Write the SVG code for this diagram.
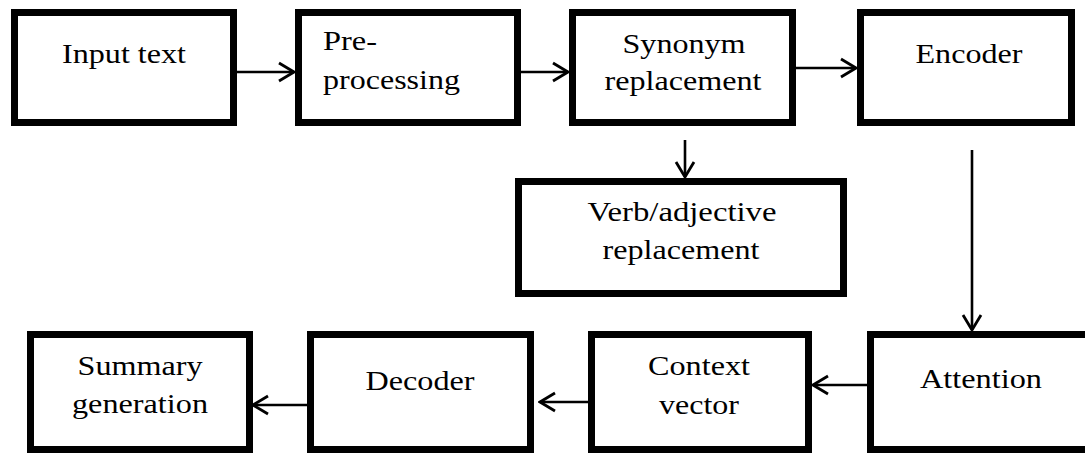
<svg xmlns="http://www.w3.org/2000/svg" width="1085" height="454" viewBox="0 0 1085 454">
<defs>
<style>
.box{fill:#fff;stroke:#000;stroke-width:7;stroke-linejoin:miter}
.lbl{font-family:"Liberation Serif","Times New Roman",serif;font-size:28px;fill:#000;text-anchor:middle}
.lft{text-anchor:start}
.edge{stroke:#000;stroke-width:2.6;fill:none}
</style>
<marker id="arr" viewBox="0 0 19 22" refX="17" refY="11" markerWidth="19" markerHeight="22" markerUnits="userSpaceOnUse" orient="auto">
<path d="M2,2 L17,11 L2,20" fill="none" stroke="#000" stroke-width="2.8"/>
</marker>
</defs>
<rect width="1085" height="454" fill="#fff"/>
<g id="connectors">
<line class="edge" x1="237" y1="72" x2="294" y2="72" marker-end="url(#arr)"/>
<line class="edge" x1="510" y1="72" x2="568" y2="72" marker-end="url(#arr)"/>
<line class="edge" x1="796" y1="68" x2="856" y2="68" marker-end="url(#arr)"/>
<line class="edge" x1="685" y1="140" x2="685" y2="177" marker-end="url(#arr)"/>
<line class="edge" x1="972" y1="150" x2="972" y2="330" marker-end="url(#arr)"/>
<line class="edge" x1="867" y1="385" x2="813" y2="385" marker-end="url(#arr)"/>
<line class="edge" x1="588" y1="402" x2="540" y2="402" marker-end="url(#arr)"/>
<line class="edge" x1="307" y1="405" x2="253" y2="405" marker-end="url(#arr)"/>
</g>
<g id="input-text">
<rect class="box" x="14.5" y="12.5" width="219" height="110"/>
<text class="lbl" x="124" y="63" textLength="124" lengthAdjust="spacingAndGlyphs">Input text</text>
</g>
<g id="pre-processing">
<rect class="box" x="298.5" y="12.5" width="219" height="110"/>
<text class="lbl lft" x="323" y="50" textLength="54" lengthAdjust="spacingAndGlyphs">Pre-</text>
<text class="lbl lft" x="323" y="89" textLength="137" lengthAdjust="spacingAndGlyphs">processing</text>
</g>
<g id="synonym-replacement">
<rect class="box" x="572.5" y="12.5" width="220" height="110"/>
<text class="lbl" x="684" y="53" textLength="123" lengthAdjust="spacingAndGlyphs">Synonym</text>
<text class="lbl" x="683" y="90" textLength="157" lengthAdjust="spacingAndGlyphs">replacement</text>
</g>
<g id="encoder">
<rect class="box" x="860.5" y="12.5" width="211" height="110"/>
<text class="lbl" x="969" y="63" textLength="107" lengthAdjust="spacingAndGlyphs">Encoder</text>
</g>
<g id="verb-adjective-replacement">
<rect class="box" x="518.5" y="181.5" width="325" height="112"/>
<text class="lbl" x="682" y="221" textLength="189" lengthAdjust="spacingAndGlyphs">Verb/adjective</text>
<text class="lbl" x="681" y="259" textLength="157" lengthAdjust="spacingAndGlyphs">replacement</text>
</g>
<g id="attention">
<rect class="box" x="870.5" y="334.5" width="230" height="115"/>
<text class="lbl" x="981" y="388" textLength="122" lengthAdjust="spacingAndGlyphs">Attention</text>
</g>
<g id="context-vector">
<rect class="box" x="591.5" y="334.5" width="217" height="115"/>
<text class="lbl" x="699" y="375" textLength="102" lengthAdjust="spacingAndGlyphs">Context</text>
<text class="lbl" x="699" y="414" textLength="80" lengthAdjust="spacingAndGlyphs">vector</text>
</g>
<g id="decoder">
<rect class="box" x="310.5" y="334.5" width="220" height="115"/>
<text class="lbl" x="420" y="390" textLength="109" lengthAdjust="spacingAndGlyphs">Decoder</text>
</g>
<g id="summary-generation">
<rect class="box" x="30.5" y="334.5" width="219" height="115"/>
<text class="lbl" x="140" y="375" textLength="125" lengthAdjust="spacingAndGlyphs">Summary</text>
<text class="lbl" x="140" y="413" textLength="136" lengthAdjust="spacingAndGlyphs">generation</text>
</g>
</svg>
